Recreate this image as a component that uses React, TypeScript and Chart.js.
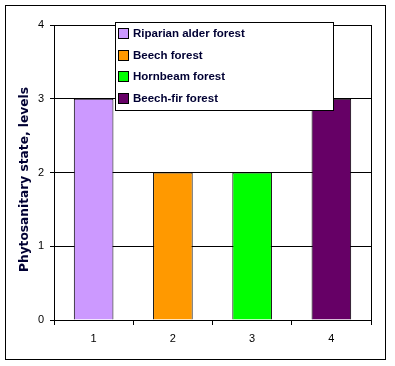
import React, { useEffect, useRef } from "react";
import { Chart, registerables } from "chart.js";

Chart.register(...registerables);

const categories = ["1", "2", "3", "4"];
const values = [3, 2, 2, 3];
const seriesNames = ["Riparian alder forest", "Beech forest", "Hornbeam forest", "Beech-fir forest"];
const barColors = ["#CC99FF", "#FF9900", "#00FF00", "#660066"];
const yTicks = [0, 1, 2, 3, 4];
const yTitle = "Phytosanitary state, levels";

const TEXT = "#000033";

const framePlugin = {
  id: "frameAndLegend",
  beforeDraw(chart: any) {
    const ctx = chart.ctx;
    ctx.save();
    ctx.fillStyle = "#ffffff";
    ctx.fillRect(0, 0, chart.width, chart.height);
    ctx.strokeStyle = "#000000";
    ctx.lineWidth = 1;
    ctx.strokeRect(5.5, 5.5, 380, 354);
    ctx.restore();
  },
  afterDraw(chart: any) {
    const ctx = chart.ctx;
    const a = chart.chartArea;
    ctx.save();
    ctx.strokeStyle = "#000000";
    ctx.lineWidth = 1;
    ctx.strokeRect(Math.round(a.left) + 0.5, Math.round(a.top) + 0.5, Math.round(a.right - a.left), Math.round(a.bottom - a.top));
    // y axis title
    ctx.save();
    ctx.translate(24.5, 179.5);
    ctx.rotate(-Math.PI / 2);
    ctx.font = "bold 12px 'DejaVu Sans', Verdana, sans-serif";
    const w = ctx.measureText(yTitle).width;
    const size = Math.max(9, Math.min(14, (12 * 185) / w));
    ctx.font = `bold ${size.toFixed(2)}px 'DejaVu Sans', Verdana, sans-serif`;
    ctx.fillStyle = TEXT;
    ctx.textAlign = "center";
    ctx.textBaseline = "middle";
    ctx.fillText(yTitle, 0, 0);
    ctx.restore();
    // legend box
    const lx = 115, ly = 22, lw = 218, lh = 88;
    ctx.fillStyle = "#ffffff";
    ctx.fillRect(lx, ly, lw, lh);
    ctx.strokeRect(lx + 0.5, ly + 0.5, lw, lh);
    ctx.font = "bold 11.5px Arial, 'Liberation Sans', sans-serif";
    ctx.textBaseline = "middle";
    ctx.textAlign = "left";
    seriesNames.forEach((name, i) => {
      const cy = 33.5 + i * 21.6;
      const sy = Math.round(cy - 4.5);
      ctx.fillStyle = barColors[i];
      ctx.fillRect(119, sy, 9, 9);
      ctx.strokeStyle = "#000000";
      ctx.strokeRect(118.5, sy - 0.5, 10, 10);
      ctx.fillStyle = TEXT;
      ctx.fillText(name, 133, cy + 0.5);
    });
    ctx.restore();
  },
};

export default function App() {
  const ref = useRef<HTMLCanvasElement>(null);
  useEffect(() => {
    document.body.style.margin = "0";
    const chart = new Chart(ref.current!, {
      type: "bar",
      data: {
        labels: categories,
        datasets: [
          {
            label: "Phytosanitary state",
            data: values,
            backgroundColor: barColors,
            borderColor: "#000000",
            borderWidth: 1,
            barPercentage: 0.5,
            categoryPercentage: 1,
          },
        ],
      },
      options: {
        animation: false,
        responsive: false,
        maintainAspectRatio: false,
        layout: { padding: { left: 0, top: 25, right: 24, bottom: 0 } },
        plugins: { legend: { display: false }, tooltip: { enabled: false } },
        scales: {
          x: {
            grid: { offset: true, drawOnChartArea: false, drawTicks: true, tickLength: 5, color: "#000000" },
            border: { display: true, color: "#000000" },
            ticks: {
              color: "#000000",
              font: { family: "Arial, 'Liberation Sans', sans-serif", size: 11 },
              padding: 7,
              maxRotation: 0,
            },
            afterFit(scale: any) {
              scale.height = 46;
            },
          },
          y: {
            min: 0,
            max: 4,
            afterBuildTicks(scale: any) {
              scale.ticks = yTicks.map((v) => ({ value: v }));
            },
            grid: { color: "#000000", tickLength: 4, drawTicks: true },
            border: { display: true, color: "#000000" },
            ticks: {
              color: "#000000",
              font: { family: "Arial, 'Liberation Sans', sans-serif", size: 11 },
              padding: 6,
            },
            title: { display: false },
            afterFit(scale: any) {
              scale.width = 54;
            },
          },
        },
      },
      plugins: [framePlugin],
    });
    return () => chart.destroy();
  }, []);
  return (
    <div style={{ position: "absolute", left: 0, top: 0, width: 395, height: 366 }}>
      <canvas ref={ref} width={395} height={366} style={{ width: 395, height: 366 }} />
    </div>
  );
}
